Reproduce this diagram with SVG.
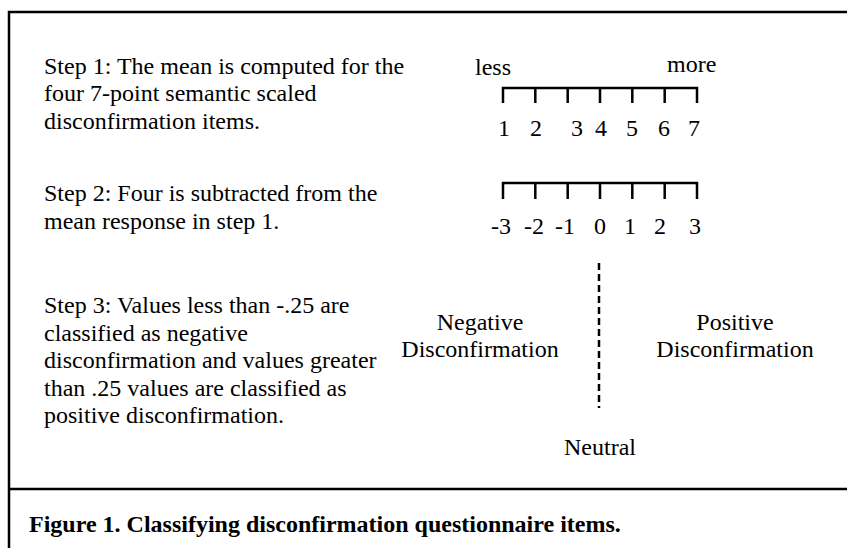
<svg xmlns="http://www.w3.org/2000/svg" width="847" height="548" viewBox="0 0 847 548">
<style>
text{font-family:"Liberation Serif","Times New Roman",serif;font-size:24px;fill:#000}
.c{text-anchor:middle}
.b{font-weight:bold}
.ln{stroke:#000;stroke-width:2.5;fill:none}
</style>
<rect width="847" height="548" fill="#fff"/>
<g id="frame">
<path class="ln" d="M9,548 V12 H847"/>
<path class="ln" d="M9,489 H847"/>
</g>
<g id="step1">
<text x="44" y="73.5">Step 1: The mean is computed for the</text>
<text x="44" y="101">four 7-point semantic scaled</text>
<text x="44" y="128.5">disconfirmation items.</text>
</g>
<g id="step2">
<text x="44" y="201">Step 2: Four is subtracted from the</text>
<text x="44" y="228.5">mean response in step 1.</text>
</g>
<g id="step3">
<text x="44" y="313">Step 3: Values less than -.25 are</text>
<text x="44" y="340.5">classified as negative</text>
<text x="44" y="368">disconfirmation and values greater</text>
<text x="44" y="395.5">than .25 values are classified as</text>
<text x="44" y="423">positive disconfirmation.</text>
</g>
<g id="scale1">
<text x="475" y="75">less</text>
<text x="667" y="72">more</text>
<path class="ln" d="M503,103 V88 H697 V103 M535.3,88 V103 M567.7,88 V103 M600,88 V103 M632.3,88 V103 M664.7,88 V103"/>
<text class="c" x="504" y="136">1</text>
<text class="c" x="536" y="136">2</text>
<text class="c" x="577" y="136">3</text>
<text class="c" x="601" y="136">4</text>
<text class="c" x="632" y="136">5</text>
<text class="c" x="664" y="136">6</text>
<text class="c" x="694" y="136">7</text>
</g>
<g id="scale2">
<path class="ln" d="M503,199 V183 H697 V199 M535.3,183 V199 M567.7,183 V199 M600,183 V199 M632.3,183 V199 M664.7,183 V199"/>
<text class="c" x="501" y="234">-3</text>
<text class="c" x="534" y="234">-2</text>
<text class="c" x="565" y="234">-1</text>
<text class="c" x="600" y="234">0</text>
<text class="c" x="630" y="234">1</text>
<text class="c" x="660" y="234">2</text>
<text class="c" x="695" y="234">3</text>
</g>
<g id="connectors">
<line class="ln" x1="599" y1="263" x2="599" y2="408" stroke-dasharray="7 4"/>
</g>
<g id="negative">
<text class="c" x="480" y="330">Negative</text>
<text class="c" x="480" y="357">Disconfirmation</text>
</g>
<g id="positive">
<text class="c" x="735" y="330">Positive</text>
<text class="c" x="735" y="357">Disconfirmation</text>
</g>
<g id="neutral">
<text class="c" x="600" y="455">Neutral</text>
</g>
<g id="caption">
<text class="b" x="29" y="532">Figure 1. Classifying disconfirmation questionnaire items.</text>
</g>
</svg>
